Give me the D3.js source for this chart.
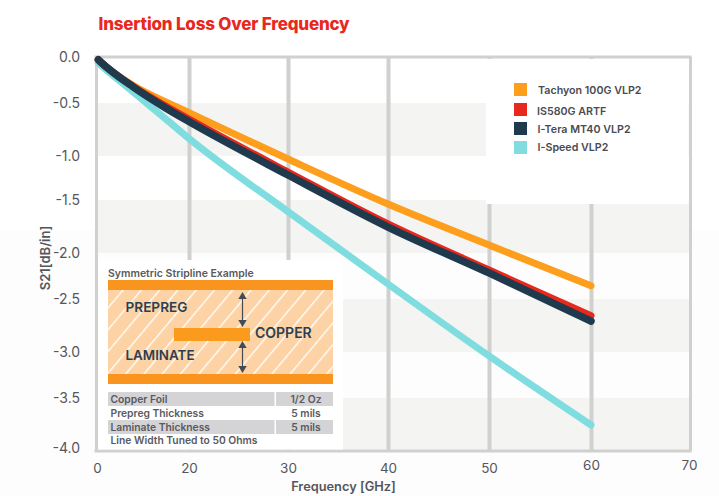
<!DOCTYPE html>
<html><head><meta charset="utf-8">
<script src="https://cdn.jsdelivr.net/npm/d3@7/dist/d3.min.js"></script>
<style>
html,body{margin:0;padding:0;background:#fff}
svg{display:block}
text{font-family:Inter,"Noto Sans",sans-serif}
</style></head><body>
<svg id="c" width="719" height="496"></svg>
<script>
const freq = [0.5, 1, 8, 15, 20, 30, 40, 50, 60];
const tachyon = [-0.03, -0.054, -0.31, -0.489, -0.592, -1.034, -1.538, -1.925, -2.355];
const is580g  = [-0.03, -0.054, -0.32, -0.528, -0.651, -1.182, -1.726, -2.185, -2.658];
const itera   = [-0.03, -0.054, -0.326, -0.547, -0.675, -1.216, -1.755, -2.217, -2.708];
const ispeed  = [-0.065, -0.087, -0.38, -0.651, -0.835, -1.61, -2.337, -3.043, -3.755];
const seriesNames = ["Tachyon 100G VLP2", "IS580G ARTF", "I-Tera MT40 VLP2", "I-Speed VLP2"];
const xTicks = [0, 20, 30, 40, 50, 60, 70];
const yTicks = [0, -0.5, -1, -1.5, -2, -2.5, -3, -3.5, -4];
const tableRows = ["Copper Foil", "Prepreg Thickness", "Laminate Thickness", "Line Width Tuned to 50 Ohms"];
const tableVals = ["1/2 Oz", "5 mils", "5 mils", ""];

const colors = ["#fd9e1d", "#e8281c", "#1f3a4d", "#7fdde0"];
const GRID = "#d0d0ce", TXT = "#55565c", BAND = "#f4f4f2";

const x = d3.scaleLinear().domain(xTicks).range([96, 189, 288, 388, 489, 591, 690]);
const y = d3.scaleLinear().domain(yTicks).range([57, 103, 156, 200, 253, 299, 352, 398, 451]);

const svg = d3.select("#c");
svg.append("rect").attr("x",0).attr("y",230).attr("width",719).attr("height",266).attr("fill","#fdfdfd");

// alternating bands
const bandTops = yTicks.filter((d,i)=>i%2===1);
svg.append("g").selectAll("rect").data(bandTops).join("rect")
  .attr("x",x(0)).attr("width",x(70)-x(0))
  .attr("y",d=>y(d)).attr("height",d=>y(d-0.5)-y(d)).attr("fill",BAND);

// x axis with gridlines
const gx = svg.append("g").attr("transform",`translate(0,${y(-4)})`)
  .call(d3.axisBottom(x).tickValues(xTicks).tickFormat(d3.format("d")).tickSize(-(y(-4)-y(0))).tickPadding(12));
gx.select(".domain").remove();
gx.selectAll("line").attr("stroke",GRID).attr("stroke-width",d=>(d===0||d===70)?3:4);
gx.selectAll("text").attr("fill",TXT).attr("font-size",13.5).attr("font-family","Inter")
  .attr("dy",d=>d>=60?"0.55em":"0.71em").attr("dx",d=>d===0?1:(d===70?-1:0));

// y axis with frame lines
const gy = svg.append("g").attr("transform",`translate(${x(0)},0)`)
  .call(d3.axisLeft(y).tickValues(yTicks).tickFormat(d=>d3.format(".1f")(d).replace("\u2212","-")).tickSize(0).tickPadding(16));
gy.select(".domain").remove();
gy.selectAll("text").attr("fill",TXT).attr("font-size",14).attr("font-family","Inter")
  .attr("dy",d=>d===-4?"0.1em":"0.32em");
svg.append("g").selectAll("line").data([0,-4]).join("line")
  .attr("x1",x(0)-1.5).attr("x2",x(70)+1.5).attr("y1",d=>y(d)).attr("y2",d=>y(d))
  .attr("stroke",GRID).attr("stroke-width",3);

// white panels
svg.append("rect").attr("x",486).attr("y",59).attr("width",202.5).attr("height",145).attr("fill","#fff");
svg.append("rect").attr("x",98).attr("y",260).attr("width",245).attr("height",189.5).attr("fill","#fff");

// curves
const line = d3.line().x((d,i)=>x(freq[i])).y(d=>y(d)).curve(d3.curveMonotoneX);
const drawOrder = [[ispeed,3,7],[tachyon,0,7],[is580g,1,7],[itera,2,7.5]];
svg.append("g").attr("fill","none").attr("stroke-linecap","round").attr("stroke-linejoin","round")
  .selectAll("path").data(drawOrder).join("path")
  .attr("d",d=>line(d[0])).attr("stroke",d=>colors[d[1]]).attr("stroke-width",d=>d[2]);

// titles
svg.append("text").attr("x",98.5).attr("y",30).attr("font-size",17).attr("font-weight",800)
  .attr("fill","#e8281e").attr("letter-spacing","-0.2").text("Insertion Loss Over Frequency");
svg.append("text").attr("x",343.5).attr("y",491).attr("text-anchor","middle").attr("font-size",12.8)
  .attr("font-weight",600).attr("fill",TXT).text("Frequency [GHz]");
svg.append("text").attr("transform","translate(50,258) rotate(-90)").attr("text-anchor","middle")
  .attr("font-size",13).attr("font-weight",600).attr("fill",TXT).text("S21[dB/in]");

// legend
const legY = [83,103,122,141], legTxtX=[538,537,537.5,537.5], legTxtY=[94,115,133,151];
const leg = svg.append("g");
leg.selectAll("rect").data(seriesNames).join("rect")
  .attr("x",514).attr("y",(d,i)=>legY[i]).attr("width",13).attr("height",13).attr("fill",(d,i)=>colors[i]);
leg.selectAll("text").data(seriesNames).join("text")
  .attr("x",(d,i)=>legTxtX[i]).attr("y",(d,i)=>legTxtY[i]).attr("font-size",10.7).attr("font-weight",600)
  .attr("fill","#4a4b52").text(d=>d);

// inset
const defs = svg.append("defs");
const pat = defs.append("pattern").attr("id","hatch").attr("patternUnits","userSpaceOnUse")
  .attr("width",14).attr("height",14).attr("patternTransform","rotate(40)");
pat.append("rect").attr("width",14).attr("height",14).attr("fill","#fdd3a5");
pat.append("rect").attr("x",0).attr("width",1.3).attr("height",14).attr("fill","#fff");
const ins = svg.append("g");
ins.append("text").attr("x",108).attr("y",277).attr("font-size",10.5).attr("font-weight",600).attr("fill","#5a5a60")
  .text("Symmetric Stripline Example");
ins.append("rect").attr("x",108).attr("y",290).attr("width",225).attr("height",84).attr("fill","url(#hatch)");
ins.append("rect").attr("x",108).attr("y",280).attr("width",225).attr("height",10).attr("fill","#f9941f");
ins.append("rect").attr("x",108).attr("y",374).attr("width",225).attr("height",10).attr("fill","#f9941f");
ins.append("rect").attr("x",174).attr("y",328).attr("width",76).attr("height",13).attr("fill","#fb9b1e");
// arrows
[[292,327],[341,373]].forEach(([a,b])=>{
  ins.append("line").attr("x1",242.5).attr("x2",242.5).attr("y1",a+3).attr("y2",b-3).attr("stroke","#444b55").attr("stroke-width",1.2);
  ins.append("path").attr("d",`M242.5 ${a}l4.2 7h-8.4z`).attr("fill","#444b55");
  ins.append("path").attr("d",`M242.5 ${b}l4.2 -7h-8.4z`).attr("fill","#444b55");
});
[["PREPREG",125.5,312,13.6],["COPPER",255,338,14],["LAMINATE",125.5,360,13.4]].forEach(([t,a,b,s])=>{
  ins.append("text").attr("x",a).attr("y",b).attr("font-size",s).attr("font-weight",600).attr("fill","#2b3f52").text(t);
});
// table
const rowTop=[392,406,420,434], rowText=[403,417,430.5,444];
ins.selectAll(".r1").data([0,2]).join("rect").attr("class","r1").attr("x",108).attr("y",i=>rowTop[i]).attr("width",166.5).attr("height",14).attr("fill","#d4d3d5");
ins.selectAll(".r2").data([0,2]).join("rect").attr("class","r2").attr("x",276).attr("y",i=>rowTop[i]).attr("width",57).attr("height",14).attr("fill","#d4d3d5");
ins.selectAll(".t1").data(tableRows).join("text").attr("class","t1").attr("x",110.5).attr("y",(d,i)=>rowText[i])
  .attr("font-size",10.3).attr("font-weight",600).attr("fill","#5a5a60").text(d=>d);
ins.selectAll(".t2").data(tableVals).join("text").attr("class","t2").attr("x",306).attr("y",(d,i)=>rowText[i]).attr("text-anchor","middle")
  .attr("font-size",10.3).attr("font-weight",600).attr("fill","#5a5a60").text(d=>d);
</script>
</body></html>
